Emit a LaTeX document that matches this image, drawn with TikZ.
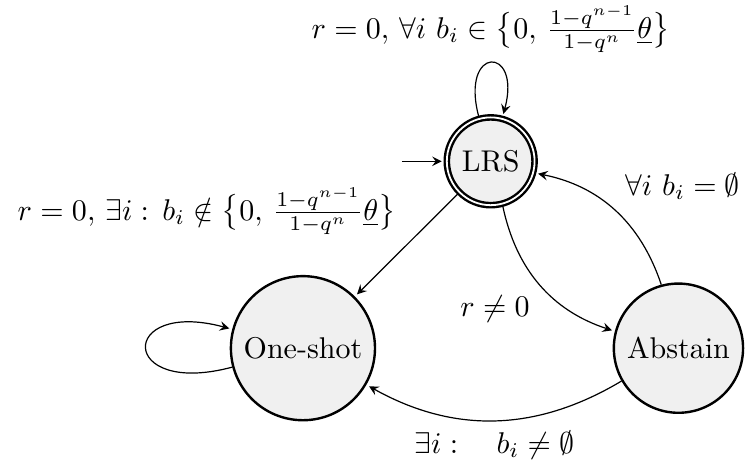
\documentclass[tikz,border=0pt]{standalone}
\usepackage{amsmath,amssymb}
\usetikzlibrary{automata}

\begin{document}
\begin{tikzpicture}[->, >=stealth, shorten >=1pt,
    every state/.style={thick, fill=black!6}]
  \useasboundingbox (-5.75,-3.60) rectangle (2.98,1.89);

  % states
  \node[state, accepting] (lrs) at (0,0) {LRS};
  \node[state] (oneshot) at (-2.2,-2.19) {One-shot};
  \node[state] (abstain) at (2.2,-2.19) {Abstain};

  % initial arrow into LRS
  \coordinate (start) at (-1.04,0);
  \draw (start) -- (lrs);

  % transitions out of LRS
  \draw (lrs) edge[loop above] node[above]
          {$r=0,\, \forall i\ b_i \in \big\{0,\, \frac{1-q^{n-1}}{1-q^n}\underline{\theta}\big\}$} (lrs)
        edge node[above left]
          {$r=0,\, \exists i:\, b_i \notin \big\{0,\, \frac{1-q^{n-1}}{1-q^n}\underline{\theta}\big\}$} (oneshot)
        edge[bend right] node[below left] {$r \neq 0$} (abstain);

  % transitions out of Abstain
  \draw (abstain) edge[bend right] node[above right] {$\forall i\ b_i = \emptyset$} (lrs)
        edge[bend left] node[below] {$\exists i: \quad b_i \neq \emptyset$} (oneshot);

  % One-shot stays
  \draw (oneshot) edge[loop left] (oneshot);

\end{tikzpicture}
\end{document}
